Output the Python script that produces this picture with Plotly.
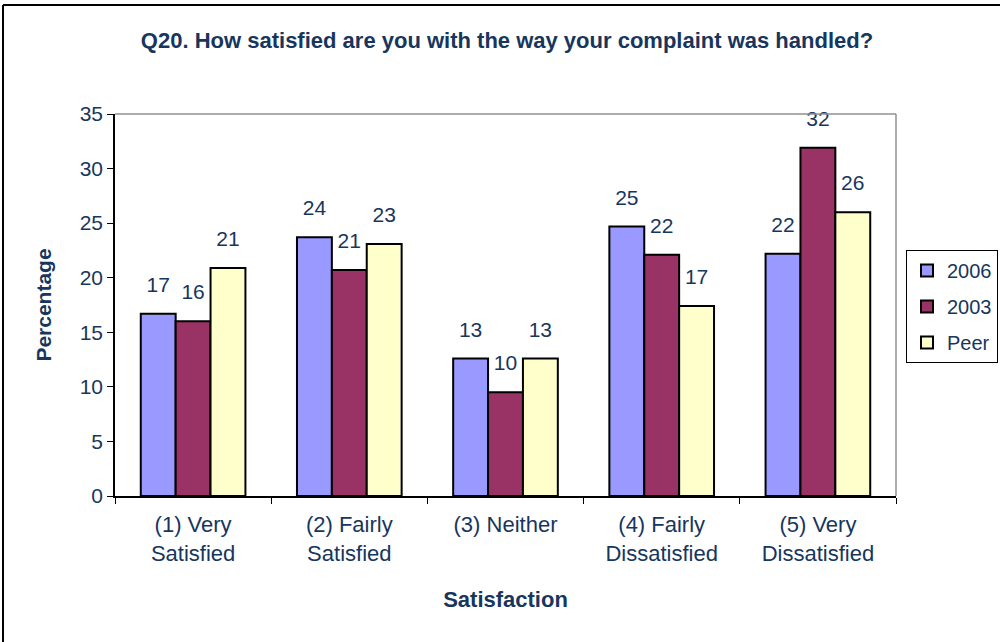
"""Q20 complaint satisfaction bar chart."""

import plotly.graph_objects as go

categories = ["(1) Very<br>Satisfied", "(2) Fairly<br>Satisfied", "(3) Neither",
              "(4) Fairly<br>Dissatisfied", "(5) Very<br>Dissatisfied"]
series_names = ["2006", "2003", "Peer"]
values_2006 = [16.7, 23.7, 12.6, 24.7, 22.2]
values_2003 = [16.0, 20.7, 9.5, 22.1, 31.9]
values_peer = [20.9, 23.1, 12.6, 17.4, 26.0]
labels_2006 = ["17", "24", "13", "25", "22"]
labels_2003 = ["16", "21", "10", "22", "32"]
labels_peer = ["21", "23", "13", "17", "26"]
y_ticks = [0, 5, 10, 15, 20, 25, 30, 35]

NAVY = "#17365D"
FONT = "Liberation Sans, Arial, sans-serif"
colors = ["#9999FF", "#993366", "#FFFFCC"]
GAP = 0.33

fig = go.Figure()

for name, vals, color in zip(series_names, [values_2006, values_2003, values_peer], colors):
    fig.add_trace(go.Bar(
        x=categories,
        y=vals,
        name=name,
        legendgroup=name,
        offsetgroup=name,
        marker=dict(color=color, line=dict(color="black", width=2)),
    ))

# data labels: invisible markers sized to give Excel-like spacing above each bar
for name, vals, labels in zip(series_names,
                              [values_2006, values_2003, values_peer],
                              [labels_2006, labels_2003, labels_peer]):
    fig.add_trace(go.Scatter(
        x=categories,
        y=vals,
        text=labels,
        mode="markers+text",
        textposition="top center",
        offsetgroup=name,
        showlegend=False,
        hoverinfo="skip",
        cliponaxis=False,
        marker=dict(size=25, color="rgba(0,0,0,0)"),
        textfont=dict(size=21, color=NAVY, family=FONT),
    ))

fig.update_layout(
    width=1000,
    height=642,
    paper_bgcolor="white",
    plot_bgcolor="white",
    barmode="group",
    scattermode="group",
    bargap=GAP,
    scattergap=GAP,
    bargroupgap=0,
    margin=dict(l=115, r=104, t=114, b=146, autoexpand=False),
    font=dict(family=FONT, color=NAVY, size=20),
    title=dict(
        text="<b>Q20. How satisfied are you with the way your complaint was handled?</b>",
        x=0.507, xanchor="center", y=0.938, yanchor="middle",
        font=dict(size=22, color=NAVY, family=FONT),
    ),
    xaxis=dict(
        showline=True, linecolor="black", linewidth=1.5,
        ticks="outside", ticklen=6, tickcolor="black",
        tickson="boundaries",
        ticklabelstandoff=8,
        tickfont=dict(size=22, color=NAVY),
        title=dict(text="<b>Satisfaction</b>", font=dict(size=22, color=NAVY), standoff=27),
    ),
    yaxis=dict(
        range=[0, 35],
        tickvals=y_ticks,
        showline=True, linecolor="black", linewidth=1.5,
        ticks="outside", ticklen=6, tickcolor="black",
        showgrid=False, zeroline=False,
        tickfont=dict(size=21, color=NAVY),
        title=dict(text="<b>Percentage</b>", font=dict(size=21, color=NAVY), standoff=22),
    ),
    legend=dict(
        x=1.0128, xanchor="left", y=0.644, yanchor="top",
        bordercolor="black", borderwidth=1,
        font=dict(size=20, color=NAVY),
        itemwidth=30, tracegroupgap=7,
    ),
    showlegend=True,
    shapes=[
        # gray plot frame on top and right
        dict(type="line", xref="paper", yref="paper", x0=0, x1=1, y0=1, y1=1,
             line=dict(color="#909090", width=1.5)),
        dict(type="line", xref="paper", yref="paper", x0=1, x1=1, y0=0, y1=1,
             line=dict(color="#909090", width=1.5)),
        # outer chart border (left and top)
        dict(type="line", xref="paper", yref="paper", x0=-0.1434, x1=1.2, y0=1.2853, y1=1.2853,
             line=dict(color="black", width=2)),
        dict(type="line", xref="paper", yref="paper", x0=-0.1434, x1=-0.1434, y0=-0.4, y1=1.2853,
             line=dict(color="black", width=2)),
    ],
)

fig.write_html("out.html", config={"displayModeBar": False},
               post_script="document.body.style.margin='0';")
